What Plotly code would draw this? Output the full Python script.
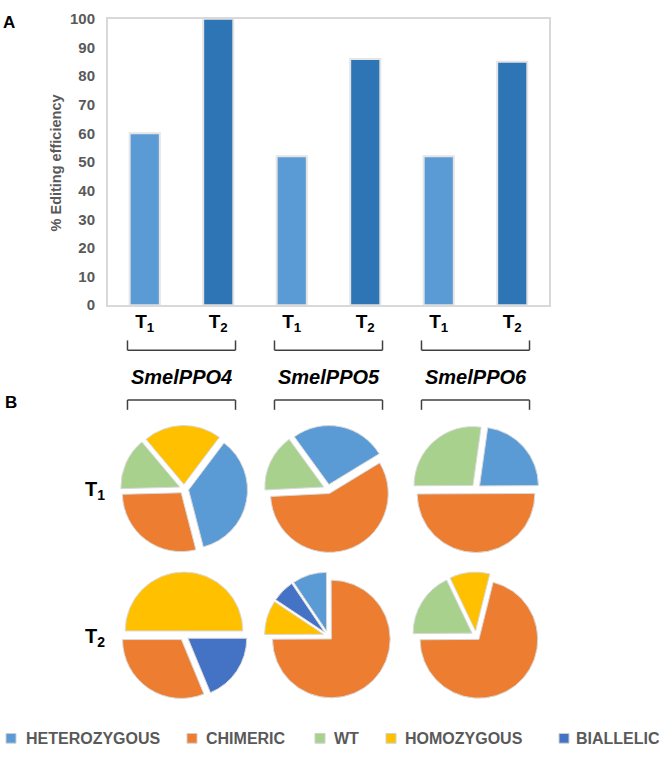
import plotly.graph_objects as go

W, H = 661, 760

# ---------------- data ----------------
genes = ["SmelPPO4", "SmelPPO5", "SmelPPO6"]
generations = ["T1", "T2"]
bar_categories = [f"{g} {t}" for g in genes for t in generations]
bar_tick_labels = ["T<sub>1</sub>", "T<sub>2</sub>", "T<sub>1</sub>", "T<sub>2</sub>", "T<sub>1</sub>", "T<sub>2</sub>"]
editing_efficiency = [60, 100, 52, 86, 52, 85]
y_ticks = [0, 10, 20, 30, 40, 50, 60, 70, 80, 90, 100]

genotype_labels = ["HETEROZYGOUS", "CHIMERIC", "WT", "HOMOZYGOUS", "BIALLELIC"]

# % of plants per genotype (order = genotype_labels)
pie_T1_PPO4 = [35.7, 28.6, 14.3, 21.4, 0]
pie_T1_PPO5 = [26.3, 57.9, 15.8, 0, 0]
pie_T1_PPO6 = [22.7, 50.0, 27.3, 0, 0]
pie_T2_PPO4 = [0, 31.25, 0, 50.0, 18.75]
pie_T2_PPO5 = [9.4, 75.0, 0, 9.4, 6.2]
pie_T2_PPO6 = [0, 71.0, 18.0, 11.0, 0]

# ---------------- styles ----------------
bar_colors = {"T1": "#5B9BD5", "T2": "#2E75B6"}
genotype_colors = {"HETEROZYGOUS": "#5B9BD5", "CHIMERIC": "#ED7D31", "WT": "#A9D18E",
                   "HOMOZYGOUS": "#FFC000", "BIALLELIC": "#4472C4"}
FONT = "Liberation Sans, Arial, sans-serif"
GRAY = "#595959"


def px_x(p):
    return p / W


def px_y(p):
    return 1 - p / H


fig = go.Figure()

# ---------------- bar chart (A) ----------------
fig.add_trace(go.Bar(
    x=bar_categories,
    y=editing_efficiency,
    marker=dict(color=[bar_colors[c.split()[1]] for c in bar_categories],
                line=dict(color="#E4E4E4", width=2)),
    showlegend=False,
    hoverinfo="x+y",
))

fig.update_layout(
    xaxis=dict(domain=[px_x(108), px_x(549)], type="category",
               tickvals=bar_categories, ticktext=bar_tick_labels,
               tickfont=dict(family=FONT, size=19, color="black", weight="bold"),
               showline=True, mirror=True, linecolor="#D9D9D9", linewidth=2,
               showgrid=False, zeroline=False, ticks="", ticklabelstandoff=-2,
               fixedrange=True),
    yaxis=dict(domain=[px_y(303), px_y(10)], range=[0, 100],
               tickvals=y_ticks,
               tickfont=dict(family=FONT, size=15, color=GRAY, weight="bold"),
               showline=True, mirror=True, linecolor="#D9D9D9", linewidth=2,
               showgrid=False, zeroline=False, ticks="", ticklabelstandoff=8,
               fixedrange=True),
    bargap=0.59,
)

# ---------------- pies (B) ----------------
pie_sets = [
    (pie_T1_PPO4, 0, 0, 37),
    (pie_T1_PPO5, 1, 0, -36),
    (pie_T1_PPO6, 2, 0, 8),
    (pie_T2_PPO4, 0, 1, 157.5),
    (pie_T2_PPO5, 1, 1, -34),
    (pie_T2_PPO6, 2, 1, 14),
]
pie_col_px = [184, 328, 476]
pie_row_px = [491, 641]
half = 65

for vals, col, row, rot in pie_sets:
    labs = [l for l, v in zip(genotype_labels, vals) if v > 0]
    vs = [v for v in vals if v > 0]
    cx, cy = pie_col_px[col], pie_row_px[row]
    fig.add_trace(go.Pie(
        labels=labs, values=vs, sort=False, direction="clockwise", rotation=rot,
        marker=dict(colors=[genotype_colors[l] for l in labs],
                    line=dict(color="#D9D9D9", width=1)),
        pull=[0.08] * len(vs), textinfo="none", showlegend=False,
        domain=dict(x=[px_x(cx - half), px_x(cx + half)],
                    y=[px_y(cy + half), px_y(cy - half)]),
    ))

# ---------------- annotations ----------------
ann = []


def add_text(text, x, y, size, color="black", xanchor="center", xref="paper", **kw):
    font = dict(family=FONT, size=size, color=color, weight="bold")
    if "style" in kw:
        font["style"] = kw.pop("style")
    ann.append(dict(text=text, x=x if xref == "x" else px_x(x), y=px_y(y), xref=xref, yref="paper",
                    xanchor=xanchor, yanchor="middle", showarrow=False, font=font, **kw))


add_text("A", 9, 14, 17)
add_text("B", 11, 403, 17)
add_text("% Editing efficiency", 56, 158, 14.5, color=GRAY, textangle=-90)
for i, g in enumerate(genes):
    add_text(g, 2 * i + 0.5, 376, 20, xref="x", style="italic")
for r, lbl in enumerate(["T<sub>1</sub>", "T<sub>2</sub>"]):
    add_text(lbl, 95, pie_row_px[r] + 2, 20)

# legend (drawn manually to match the original layout)
legend_square_px = [11, 192, 320, 391, 564]
legend_text_px = [24, 204, 332, 403, 574]
legend_y = 746
shapes = []
for lab, sx, tx in zip(genotype_labels, legend_square_px, legend_text_px):
    shapes.append(dict(type="rect", xref="paper", yref="paper",
                       x0=px_x(sx - 5), x1=px_x(sx + 5), y0=px_y(legend_y + 5), y1=px_y(legend_y - 5),
                       fillcolor=genotype_colors[lab], line=dict(color="#D0D0D0", width=1)))
    add_text(lab, tx, legend_y, 16, color=GRAY, xanchor="left")

# brackets
bw = 0.735
for i in range(3):
    c = 2 * i + 0.5
    # upper bracket (opens upward)
    for (xa, ya, xb, yb) in [(c - bw, 339, c - bw, 349), (c - bw, 349, c + bw, 349), (c + bw, 349, c + bw, 339)]:
        shapes.append(dict(type="line", xref="x", yref="paper", x0=xa, x1=xb,
                           y0=px_y(ya), y1=px_y(yb), line=dict(color="#404040", width=1.5)))
    # lower bracket (opens downward)
    for (xa, ya, xb, yb) in [(c - bw, 410, c - bw, 400), (c - bw, 400, c + bw, 400), (c + bw, 400, c + bw, 410)]:
        shapes.append(dict(type="line", xref="x", yref="paper", x0=xa, x1=xb,
                           y0=px_y(ya), y1=px_y(yb), line=dict(color="#404040", width=1.5)))

fig.update_layout(
    width=W, height=H, autosize=False,
    margin=dict(l=0, r=0, t=0, b=0),
    paper_bgcolor="white", plot_bgcolor="white",
    annotations=ann, shapes=shapes, showlegend=False,
    font=dict(family=FONT),
)

fig.write_html("out.html", config={"displayModeBar": False},
               post_script="document.body.style.margin='0';document.body.style.overflow='hidden';")
